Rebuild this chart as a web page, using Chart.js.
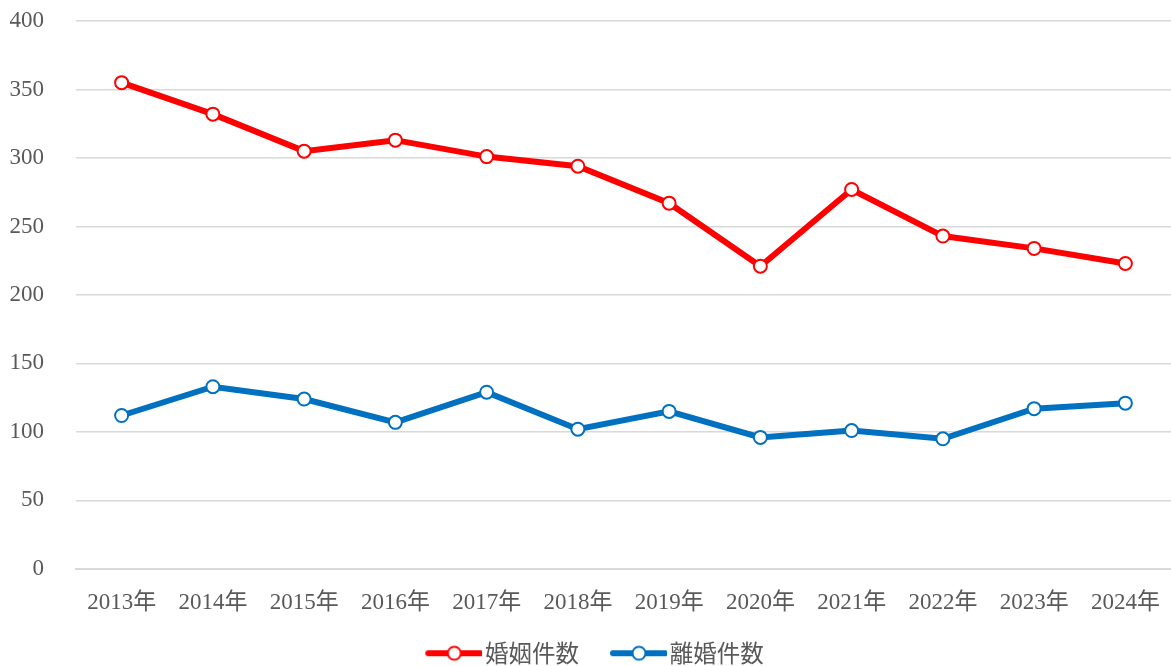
<!DOCTYPE html>
<html>
<head>
<meta charset="utf-8">
<script src="https://cdn.jsdelivr.net/npm/chart.js@4/dist/chart.umd.min.js"></script>
<style>
  html, body { margin: 0; padding: 0; background: #fff; }
  #wrap { width: 1171px; height: 666px; }
</style>
</head>
<body>
<div id="wrap"><canvas id="myChart"></canvas></div>
<script>
const years = ['2013年', '2014年', '2015年', '2016年', '2017年', '2018年', '2019年', '2020年', '2021年', '2022年', '2023年', '2024年'];
const marriages = [355, 332, 305, 313, 301, 294, 267, 221, 277, 243, 234, 223];
const divorces = [112, 133, 124, 107, 129, 102, 115, 96, 101, 95, 117, 121];
const yTicks = [0, 50, 100, 150, 200, 250, 300, 350, 400];

const tickFont = "'Liberation Serif', 'Noto Sans CJK JP', serif";
const legendFont = "'Noto Sans CJK JP', 'Noto Sans', sans-serif";

// legend marker: line with an open circle, drawn at the right of a wider transparent image
function marker(color) {
    let c = document.createElement('canvas');
    c.width = 84;
    c.height = 18;
    let g = c.getContext('2d');
    g.strokeStyle = color;
    g.lineWidth = 6;
    g.lineCap = 'round';
    g.beginPath();
    g.moveTo(30, 9);
    g.lineTo(82, 9);
    g.stroke();
    g.beginPath();
    g.arc(56, 9, 6.5, 0, Math.PI * 2);
    g.fillStyle = '#fff';
    g.fill();
    g.lineWidth = 2;
    g.stroke();
    return c;
}

let ctx = document.getElementById('myChart').getContext('2d');
let myChart = new Chart(ctx, {
    type: 'line',
    data: {
        labels: years,
        datasets: [{
                label: '婚姻件数',
                data: marriages,
                borderColor: '#ff0000',
                backgroundColor: '#ffffff',
                borderWidth: 6,
                pointRadius: 6.5,
                pointBorderWidth: 2,
                pointBackgroundColor: '#ffffff',
                pointBorderColor: '#ff0000',
                tension: 0
            },
            {
                label: '離婚件数',
                data: divorces,
                borderColor: '#0070c0',
                backgroundColor: '#ffffff',
                borderWidth: 6,
                pointRadius: 6.5,
                pointBorderWidth: 2,
                pointBackgroundColor: '#ffffff',
                pointBorderColor: '#0070c0',
                tension: 0
            }
        ]
    },
    options: {
        responsive: true,
        maintainAspectRatio: false,
        animation: false,
        layout: {
            autoPadding: false,
            padding: { top: 21, right: 0, left: 0, bottom: -9 }
        },
        plugins: {
            legend: {
                position: 'bottom',
                labels: {
                    usePointStyle: true,
                    pointStyleWidth: 66,
                    padding: 13,
                    color: '#595959',
                    font: { family: legendFont, size: 23.5 },
                    generateLabels: (chart) => chart.data.datasets.map((ds, i) => ({
                        text: ds.label,
                        fillStyle: ds.borderColor,
                        strokeStyle: ds.borderColor,
                        pointStyle: marker(ds.borderColor),
                        fontColor: '#595959',
                        datasetIndex: i,
                        hidden: false
                    }))
                }
            },
            tooltip: { enabled: false }
        },
        scales: {
            x: {
                offset: true,
                afterFit: (axis) => {
                    axis.paddingRight = 0;
                    axis.paddingLeft = 0;
                },
                grid: { display: false },
                border: { display: true, color: '#d9d9d9', width: 2 },
                ticks: {
                    color: '#595959',
                    padding: 12,
                    maxRotation: 0,
                    font: { family: tickFont, size: 23 }
                }
            },
            y: {
                min: 0,
                max: 400,
                afterBuildTicks: (axis) => {
                    axis.ticks = yTicks.map(v => ({ value: v }));
                },
                afterFit: (axis) => {
                    axis.width = 76;
                    axis.paddingTop = 0;
                    axis.paddingBottom = 0;
                },
                grid: { color: '#d9d9d9', lineWidth: 1.5, drawTicks: false },
                border: { display: false },
                ticks: {
                    color: '#595959',
                    padding: 32,
                    font: { family: tickFont, size: 23 }
                }
            }
        }
    }
});
</script>
</body>
</html>
